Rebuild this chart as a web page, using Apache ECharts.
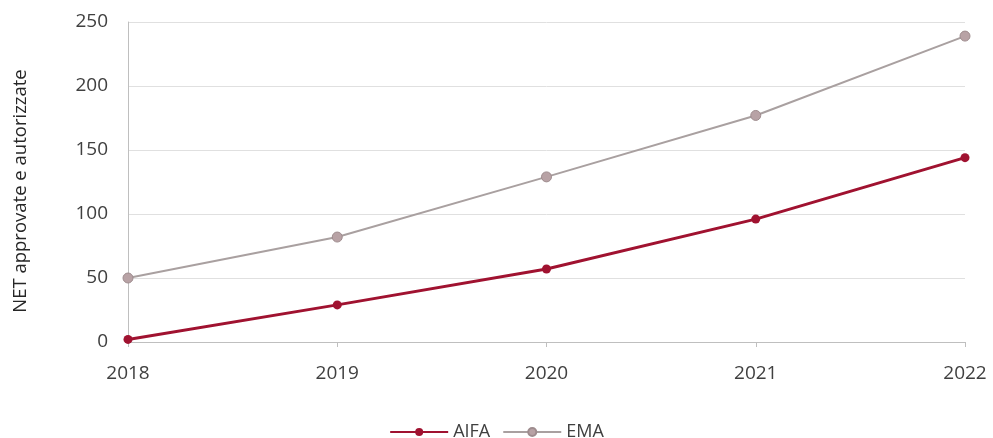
<!DOCTYPE html>
<html>
<head>
<meta charset="utf-8">
<script src="https://cdn.jsdelivr.net/npm/echarts@6/dist/echarts.min.js"></script>
<style>
  html, body { margin: 0; padding: 0; background: #fff; }
  #container { width: 993px; height: 438px; }
</style>
</head>
<body>
<div id="container"></div>
<script>
var years = ['2018', '2019', '2020', '2021', '2022'];
var aifa = [2, 29, 57, 96, 144];
var ema = [50, 82, 129, 177, 239];

var myChart = echarts.init(document.getElementById('container'));
var font = 'Open Sans, Noto Sans, sans-serif';
myChart.setOption({
    animation: false,
    grid: { left: 128, right: 28, top: 22, bottom: 96 },
    legend: {
        top: 418,
        left: 'center',
        itemWidth: 58,
        itemHeight: 10,
        itemGap: 12,
        textStyle: { fontFamily: font, fontSize: 18, color: '#404040' },
        data: ['AIFA', 'EMA']
    },
    xAxis: {
        type: 'category',
        boundaryGap: false,
        data: years,
        axisLine: { lineStyle: { color: '#bfbfbf' } },
        axisTick: { alignWithLabel: true, length: 5, lineStyle: { color: '#bfbfbf' } },
        axisLabel: { fontFamily: font, fontSize: 19, color: '#404040', margin: 22 }
    },
    yAxis: {
        type: 'value',
        min: 0,
        max: 250,
        interval: 50,
        name: 'NET approvate e autorizzate',
        nameLocation: 'middle',
        nameGap: 98,
        nameTextStyle: { fontFamily: font, fontSize: 18.5, color: '#262626', padding: [0, 0, 0, -18] },
        axisLine: { show: true, lineStyle: { color: '#bfbfbf' } },
        axisTick: { show: false },
        axisLabel: { fontFamily: font, fontSize: 19, color: '#404040', margin: 20 },
        splitLine: { lineStyle: { color: '#e0e0e0' } }
    },
    series: [{
        name: 'AIFA',
        type: 'line',
        data: aifa,
        symbol: 'circle',
        symbolSize: 9,
        lineStyle: { color: '#a01230', width: 3 },
        itemStyle: { color: '#a01230' }
    }, {
        name: 'EMA',
        type: 'line',
        data: ema,
        symbol: 'circle',
        symbolSize: 10,
        lineStyle: { color: '#a9a0a0', width: 2 },
        itemStyle: { color: '#b8a2a5', borderColor: '#9e8c8e', borderWidth: 1 }
    }]
});
</script>
</body>
</html>
